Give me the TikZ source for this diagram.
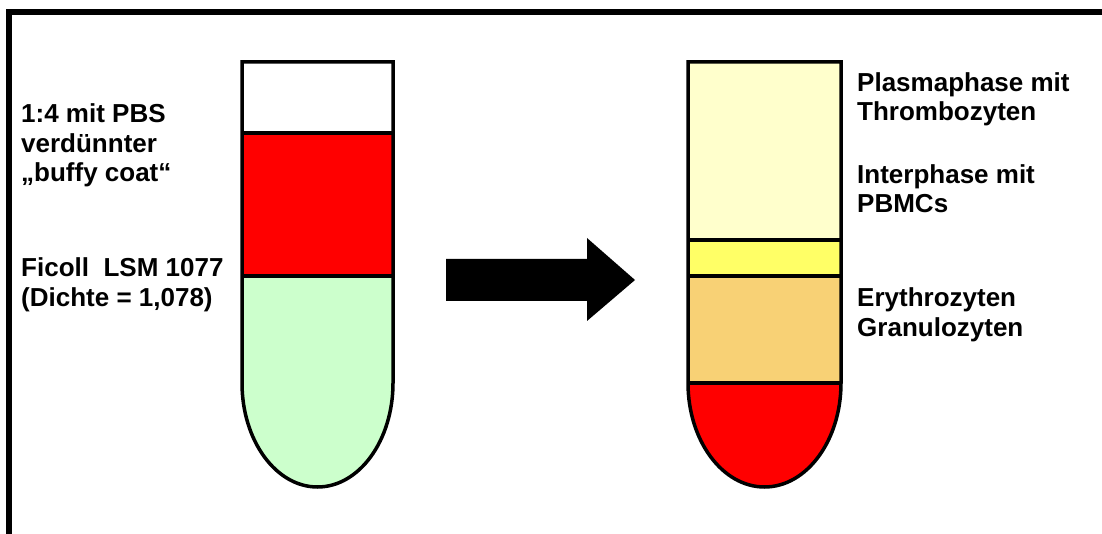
\documentclass[tikz,border=0pt]{standalone}
\usepackage{fontspec}
\setmainfont{Liberation Sans}
\definecolor{tubegreen}{HTML}{CCFFCC}
\definecolor{paleyellow}{HTML}{FFFFCC}
\definecolor{midyellow}{HTML}{FFFF66}
\definecolor{tan}{HTML}{F8D175}
\definecolor{bloodred}{HTML}{FF0000}
\tikzset{
  tubeline/.style={draw=black, line width=3.5pt},
  sepline/.style={draw=black, line width=3.5pt},
  lbl/.style={inner sep=0pt, anchor=base west, align=left,
    font=\bfseries\fontsize{26}{29.5}\selectfont},
  frame/.style={draw=black, line width=6pt},
  bigarrow/.style={fill=black}
}
\begin{document}
\begin{tikzpicture}[x=1pt, y=-1pt]
\useasboundingbox (0,0) rectangle (1102,534);
% frame (top and left edges)
\draw[frame] (9,540) -- (9,12) -- (1108,12);

% ---- left tube ----
\fill[white] (242,62) rectangle (393,133);
\fill[bloodred] (242,133) rectangle (393,276);
\fill[tubegreen] (242,276) -- (242,383)
  .. controls (242,440.4) and (275.8,487) .. (317.5,487)
  .. controls (359.2,487) and (393,440.4) .. (393,383) -- (393,276) -- cycle;
\draw[sepline] (242,133) -- (393,133);
\draw[sepline] (242,276) -- (393,276);
\draw[tubeline] (242,62) -- (242,383)
  .. controls (242,440.4) and (275.8,487) .. (317.5,487)
  .. controls (359.2,487) and (393,440.4) .. (393,383) -- (393,62) -- cycle;

% ---- right tube ----
\fill[paleyellow] (688,62) rectangle (841,240);
\fill[midyellow] (688,240) rectangle (841,276);
\fill[tan] (688,276) rectangle (841,383);
\fill[bloodred] (688,383)
  .. controls (688,440.4) and (722.3,487) .. (764.5,487)
  .. controls (806.7,487) and (841,440.4) .. (841,383) -- cycle;
\draw[sepline] (688,240) -- (841,240);
\draw[sepline] (688,276) -- (841,276);
\draw[sepline] (688,383) -- (841,383);
\draw[tubeline] (688,62) -- (688,383)
  .. controls (688,440.4) and (722.3,487) .. (764.5,487)
  .. controls (806.7,487) and (841,440.4) .. (841,383) -- (841,62) -- cycle;

% ---- arrow ----
\fill[bigarrow] (446,259) -- (587,259) -- (587,238) -- (635,280)
  -- (587,321) -- (587,301) -- (446,301) -- cycle;

% ---- labels (base anchor = baseline of last line) ----
\node[lbl] (buffy) at (21,182) {1:4 mit PBS\\verdünnter\\„buffy coat“};
\node[lbl] (ficoll) at (21,306) {Ficoll\ \ LSM 1077\\(Dichte = 1,078)};
\node[lbl] (plasma) at (857,121) {Plasmaphase mit\\Thrombozyten};
\node[lbl] (inter) at (857,213) {Interphase mit\\PBMCs};
\node[lbl] (ery) at (857,336) {Erythrozyten\\Granulozyten};
\end{tikzpicture}
\end{document}
